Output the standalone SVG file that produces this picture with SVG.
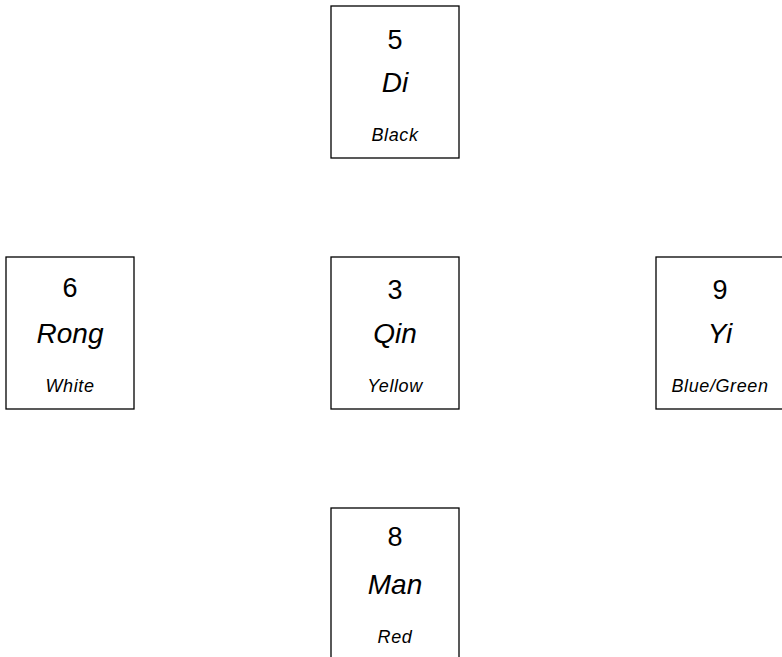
<svg xmlns="http://www.w3.org/2000/svg" width="782" height="657" viewBox="0 0 782 657">
<style>
.box{fill:#fff;stroke:#000;stroke-width:1.3}
.num{font-family:"Liberation Sans",Arial,sans-serif;font-size:27px;text-anchor:middle;fill:#000}
.name{font-family:"Liberation Sans",Arial,sans-serif;font-size:28px;font-style:italic;text-anchor:middle;fill:#000}
.col{font-family:"Liberation Sans",Arial,sans-serif;font-size:18px;font-style:italic;text-anchor:middle;fill:#000;letter-spacing:0.6px}
</style>
<rect width="782" height="657" fill="#fff"/>
<g id="connectors"></g>
<g id="di">
<rect class="box" x="331" y="6" width="128" height="152"/>
<text class="num" x="395" y="49">5</text>
<text class="name" x="395" y="92">Di</text>
<text class="col" x="395" y="141">Black</text>
</g>
<g id="rong">
<rect class="box" x="6" y="257" width="128" height="152"/>
<text class="num" x="70" y="297">6</text>
<text class="name" x="70" y="343">Rong</text>
<text class="col" x="70" y="392">White</text>
</g>
<g id="qin">
<rect class="box" x="331" y="257" width="128" height="152"/>
<text class="num" x="395" y="299">3</text>
<text class="name" x="395" y="343">Qin</text>
<text class="col" x="395" y="392">Yellow</text>
</g>
<g id="yi">
<rect class="box" x="656" y="257" width="128" height="152"/>
<text class="num" x="720" y="299">9</text>
<text class="name" x="720" y="343">Yi</text>
<text class="col" x="720" y="392">Blue/Green</text>
</g>
<g id="man">
<rect class="box" x="331" y="508" width="128" height="152"/>
<text class="num" x="395" y="546">8</text>
<text class="name" x="395" y="594">Man</text>
<text class="col" x="395" y="643">Red</text>
</g>
</svg>
